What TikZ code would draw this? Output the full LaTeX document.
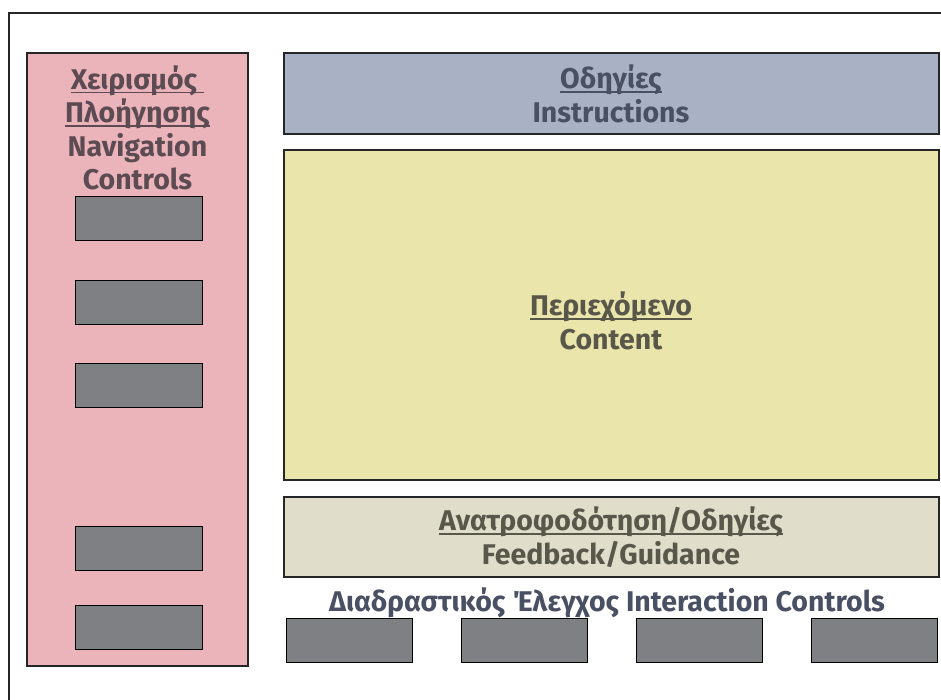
\documentclass[tikz,border=0pt]{standalone}
\usepackage{fontspec}
\setmainfont{Fira Sans}
\definecolor{pinkfill}{HTML}{EBB4BB}
\definecolor{bluefill}{HTML}{A9B2C5}
\definecolor{yellowfill}{HTML}{EAE5AB}
\definecolor{fbfill}{HTML}{E0DDCB}
\definecolor{btnfill}{HTML}{7F8084}
\definecolor{navtext}{HTML}{5C4B52}
\definecolor{bluetext}{HTML}{4A5063}
\definecolor{olivetext}{HTML}{58574A}
\newcommand\grul[1]{\setbox0\hbox{#1}\rlap{\rule[-0.14em]{\wd0}{0.06em}}\box0}
\tikzset{
  panel/.style={draw=black!85, line width=1.3pt},
  btn/.style={draw=black, line width=1.3pt, fill=btnfill},
  lbl/.style={align=center, font=\bfseries\fontsize{28.5}{33.5}\selectfont, inner sep=0pt},
}
\begin{document}
\begin{tikzpicture}[x=1pt,y=-1pt]
\useasboundingbox (0,0) rectangle (941,699);
\fill[white] (0,0) rectangle (941,699);
% outer frame
\draw[line width=1.3pt, black!85] (945,13) -- (9,13) -- (9,705);
% panels
\draw[panel, fill=pinkfill] (27,53) rectangle (248,666);
\draw[panel, fill=bluefill] (284,53) rectangle (939,134);
\draw[panel, fill=yellowfill] (284,150) rectangle (939,480);
\draw[panel, fill=fbfill] (284,497) rectangle (939,577);
% navigation buttons
\foreach \y/\n in {196/1,280/2,363/3,526/4,605/5}{
  \node[btn, minimum width=127pt, minimum height=44pt, inner sep=0pt, anchor=north west] (nb\n) at (75,\y) {};
}
% interaction buttons
\foreach \x/\n in {286/1,461/2,636/3,811/4}{
  \node[btn, minimum width=126pt, minimum height=44pt, inner sep=0pt, anchor=north west] (ib\n) at (\x,618) {};
}
% labels
\node[lbl, text=navtext] (nav) at (137.5,128) {\grul{Χειρισμός\ }\\ \grul{Πλοήγησης}\\ Navigation\\ Controls};
\node[lbl, text=bluetext] (instr) at (611,94) {\grul{Οδηγίες}\\ Instructions};
\node[lbl, text=olivetext] (content) at (611,321) {\grul{Περιεχόμενο}\\ Content};
\node[lbl, text=olivetext] (fb) at (611,537) {\grul{Ανατροφοδότηση/Οδηγίες}\\ Feedback/Guidance};
\node[lbl, text=bluetext] (ic) at (607,603) {Διαδραστικός Έλεγχος Interaction Controls};
\end{tikzpicture}
\end{document}
